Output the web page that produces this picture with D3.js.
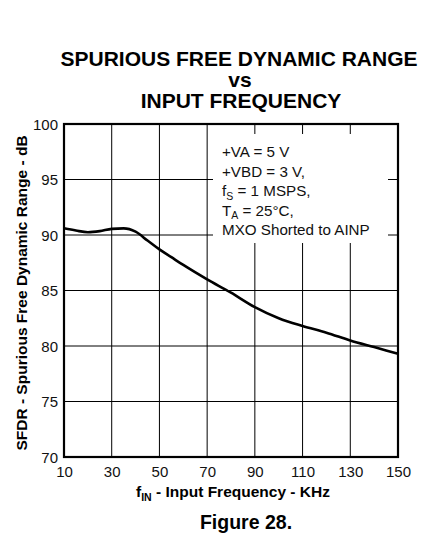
<!DOCTYPE html>
<html><head><meta charset="utf-8">
<script src="https://cdn.jsdelivr.net/npm/d3@7"></script>
<style>body{margin:0;background:#fff}svg{display:block}text{font-family:"Liberation Sans",Arial,sans-serif}</style>
</head><body>
<script>
const freq = [10, 15, 20, 25, 30, 35, 40, 45, 50, 55, 60, 70, 80, 90, 100, 110, 120, 130, 140, 150];
const sfdr = [90.6, 90.4, 90.25, 90.35, 90.55, 90.6, 90.3, 89.5, 88.7, 88.0, 87.3, 86.0, 84.8, 83.5, 82.5, 81.8, 81.2, 80.5, 79.9, 79.3];
const xTicks = [10, 30, 50, 70, 90, 110, 130, 150];
const yTicks = [70, 75, 80, 85, 90, 95, 100];
const titleLines = ["SPURIOUS FREE DYNAMIC RANGE", "vs", "INPUT FREQUENCY"];
const noteLines = [["+VA = 5 V"], ["+VBD = 3 V,"], ["f", "S", " = 1 MSPS,"], ["T", "A", " = 25°C,"], ["MXO Shorted to AINP"]];

const W = 422, H = 541;
const L = 64, R = 398, T = 124, B = 457;
const svg = d3.select("body").append("svg").attr("width", W).attr("height", H);
const x = d3.scaleLinear().domain([10, 150]).range([L, R]);
const y = d3.scaleLinear().domain([70, 100]).range([B, T]);

// title
const tt = svg.append("text").attr("text-anchor", "middle").attr("font-weight", "bold").attr("font-size", 21);
[[239, 66], [240, 87], [241, 108]].forEach((p, i) => {
  tt.append("tspan").attr("x", p[0]).attr("y", p[1]).text(titleLines[i]);
});

// grid
const g = svg.append("g");
g.selectAll(".vg").data(xTicks.slice(1, -1)).join("line")
  .attr("x1", d => x(d)).attr("x2", d => x(d)).attr("y1", T).attr("y2", B)
  .attr("stroke", "#000").attr("stroke-width", 1);
g.selectAll(".hg").data(yTicks.slice(1, -1)).join("line")
  .attr("x1", L).attr("x2", R).attr("y1", d => y(d)).attr("y2", d => y(d))
  .attr("stroke", "#000").attr("stroke-width", 1);

// note box (white) covering grid
svg.append("rect").attr("x", 213).attr("y", 134).attr("width", 175).attr("height", 109).attr("fill", "#fff");
const nt = svg.append("g").attr("font-size", 15.2).attr("fill", "#111");
noteLines.forEach((parts, i) => {
  const t = nt.append("text").attr("x", 222).attr("y", 157 + i * 19.5);
  if (parts.length === 1) t.text(parts[0]);
  else {
    t.append("tspan").text(parts[0]);
    t.append("tspan").attr("font-size", 10.5).attr("dy", 3.5).text(parts[1]);
    t.append("tspan").attr("dy", -3.5).text(parts[2]);
  }
});

// frame
svg.append("rect").attr("x", L).attr("y", T).attr("width", R - L).attr("height", B - T)
  .attr("fill", "none").attr("stroke", "#000").attr("stroke-width", 2.2);

// axes labels
const xa = svg.append("g").attr("transform", `translate(0,${B})`)
  .call(d3.axisBottom(x).tickValues(xTicks).tickSize(0).tickPadding(9));
const ya = svg.append("g").attr("transform", `translate(${L},0)`)
  .call(d3.axisLeft(y).tickValues(yTicks).tickSize(0).tickPadding(6));
[xa, ya].forEach(a => {
  a.select(".domain").remove();
  a.selectAll("text").attr("font-size", 15).attr("font-family", '"Liberation Sans",Arial,sans-serif').attr("fill", "#111");
});
ya.selectAll("text").attr("dy", "0.36em");

// curve
const line = d3.line().x((d, i) => x(freq[i])).y(d => y(d)).curve(d3.curveMonotoneX);
svg.append("path").datum(sfdr).attr("d", line).attr("fill", "none")
  .attr("stroke", "#000").attr("stroke-width", 2.6);

// x label
const xl = svg.append("text").attr("x", 233).attr("y", 497).attr("text-anchor", "middle")
  .attr("font-weight", "bold").attr("font-size", 15.5);
xl.append("tspan").text("f");
xl.append("tspan").attr("font-size", 10.5).attr("dy", 3.5).text("IN");
xl.append("tspan").attr("dy", -3.5).text(" - Input Frequency - KHz");

// y label
svg.append("text").attr("transform", `translate(27,293) rotate(-90)`)
  .attr("text-anchor", "middle").attr("font-weight", "bold").attr("font-size", 15.5)
  .text("SFDR - Spurious Free Dynamic Range - dB");

// caption
svg.append("text").attr("x", 246).attr("y", 529).attr("text-anchor", "middle")
  .attr("font-weight", "bold").attr("font-size", 19.5).text("Figure 28.");
</script>
</body></html>
